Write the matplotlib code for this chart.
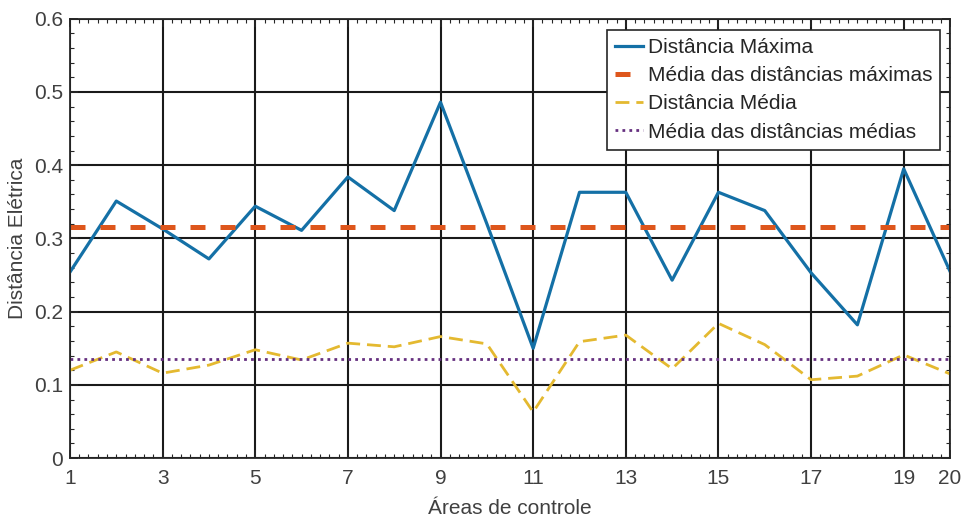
import matplotlib.pyplot as plt
from matplotlib.ticker import MultipleLocator

plt.rcParams['font.family'] = ['Liberation Sans', 'DejaVu Sans']

# Control areas 1..20
areas = list(range(1, 21))

# Maximum electrical distance per area
dist_max = [0.254, 0.351, 0.313, 0.272, 0.344, 0.311, 0.384, 0.338, 0.486, 0.320,
            0.150, 0.363, 0.363, 0.243, 0.363, 0.338, 0.253, 0.182, 0.395, 0.255]

# Average electrical distance per area
dist_avg = [0.120, 0.145, 0.116, 0.127, 0.148, 0.134, 0.157, 0.152, 0.166, 0.156,
            0.063, 0.159, 0.168, 0.122, 0.184, 0.155, 0.107, 0.112, 0.141, 0.115]

mean_max = 0.316
mean_avg = 0.136

xtick_vals = [1, 3, 5, 7, 9, 11, 13, 15, 17, 19, 20]

fig = plt.figure(figsize=(9.65, 5.2), dpi=100)
ax = fig.add_axes([0.0725, 0.119, 0.912, 0.845])

ax.plot(areas, dist_max, color='#1470A6', lw=2.3, label='Distância Máxima')
ax.plot([areas[0], areas[-1]], [mean_max, mean_max], color='#DE561C', lw=3.6,
        ls=(0, (3, 3)), label='Média das distâncias máximas')
ax.plot(areas, dist_avg, color='#E4B930', lw=2, ls=(0, (5, 2.5)), label='Distância Média')
ax.plot([areas[0], areas[-1]], [mean_avg, mean_avg], color='#663080', lw=2,
        ls=(0, (1, 1.5)), label='Média das distâncias médias')

ax.set_xlim(1, 20)
ax.set_ylim(0, 0.6)
ax.set_xticks(xtick_vals)
ax.set_yticks([0, 0.1, 0.2, 0.3, 0.4, 0.5, 0.6])
ax.set_yticklabels(['0', '0.1', '0.2', '0.3', '0.4', '0.5', '0.6'])
ax.xaxis.set_minor_locator(MultipleLocator(0.2))
ax.yaxis.set_minor_locator(MultipleLocator(0.02))
ax.tick_params(which='both', direction='in', top=True, right=True, labelsize=15,
               colors='#262626', labelcolor='#404040')
ax.tick_params(axis='x', which='major', pad=8)
ax.tick_params(axis='y', which='major', pad=5)
ax.tick_params(which='major', length=6, width=1.2)
ax.tick_params(which='minor', length=3, width=0.8)
ax.grid(True, which='major', color='#1a1a1a', lw=1.5)
ax.set_axisbelow(True)
for s in ax.spines.values():
    s.set_color('#262626')
    s.set_linewidth(1.3)

ax.set_xlabel('Áreas de controle', fontsize=15, color='#404040', labelpad=8)
ax.set_ylabel('Distância Elétrica', fontsize=15, color='#404040', labelpad=5)

leg = ax.legend(loc='upper right', bbox_to_anchor=(0.989, 0.975), fontsize=15,
                handlelength=1.35, handletextpad=0.2, borderpad=0.4, labelspacing=0.44,
                borderaxespad=0, fancybox=False, framealpha=1, edgecolor='#262626')
leg.get_frame().set_linewidth(1.2)
for t in leg.get_texts():
    t.set_color('#262626')

fig.savefig('out.png', dpi=100)
